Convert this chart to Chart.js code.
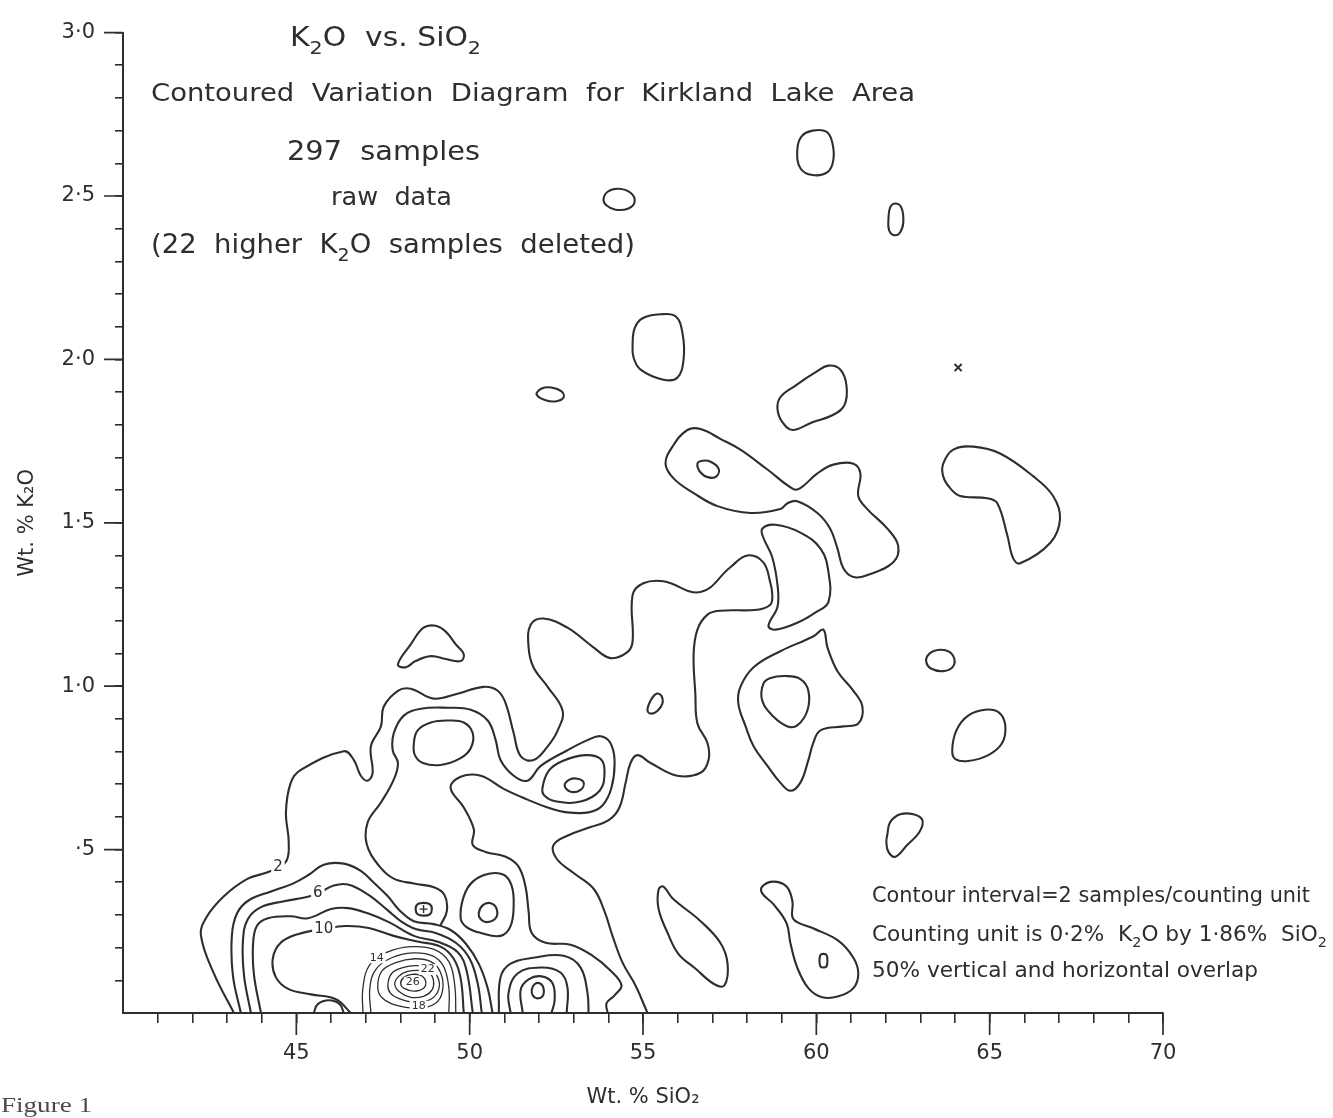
<!DOCTYPE html>
<html>
<head>
<meta charset="utf-8">
<title>K2O vs. SiO2 - Kirkland Lake Area</title>
<script src="https://cdn.jsdelivr.net/npm/chart.js@4.4.1/dist/chart.umd.min.js"></script>
<style>
  html, body { margin: 0; padding: 0; background: #fff; }
  canvas { display: block; }
</style>
</head>
<body>
<canvas id="chart" width="1333" height="1118"></canvas>
<script>
// Contoured variation diagram: every contour is a list of [SiO2 wt.%, K2O wt.%] points

// axis ticks
const xMajor = [45, 50, 55, 60, 65, 70];
const xMajorLabels = ['45', '50', '55', '60', '65', '70'];
const yMajor = [0.5, 1.0, 1.5, 2.0, 2.5, 3.0];
const yMajorLabels = ['·5', '1·0', '1·5', '2·0', '2·5', '3·0'];

// nested contours of the low-silica cluster (open, they run into the SiO2 axis)
const c2 = [[43.20,0],[42.62,0.121],[42.25,0.236],[42.39,0.290],[42.91,0.357],[43.60,0.411],[44.21,0.432],[44.70,0.463],[44.78,0.523],[44.70,0.614],[44.84,0.705],[45.13,0.744],[46.37,0.801],[46.66,0.774],[46.86,0.726],[47.06,0.711],[47.20,0.735],[47.15,0.816],[47.44,0.877],[47.52,0.937],[47.93,0.986],[48.30,0.992],[48.96,0.962],[49.65,0.977],[50.40,0.998],[50.81,0.986],[51.04,0.947],[51.27,0.856],[51.47,0.786],[51.84,0.774],[52.25,0.816],[52.54,0.865],[52.68,0.925],[52.25,0.998],[51.84,1.058],[51.70,1.119],[51.76,1.188],[52.13,1.207],[52.82,1.179],[53.57,1.119],[54.06,1.086],[54.55,1.104],[54.70,1.137],[54.70,1.279],[55.01,1.315],[55.59,1.321],[56.66,1.288],[57.52,1.364],[58.01,1.400],[58.47,1.379],[58.67,1.318],[58.73,1.279],[58.67,1.249],[58.30,1.234],[57.23,1.231],[56.86,1.219],[56.57,1.173],[56.46,1.098],[56.51,0.977],[56.57,0.886],[56.86,0.826],[56.89,0.774],[56.66,0.735],[55.99,0.726],[55.22,0.765],[54.84,0.789],[54.64,0.765],[54.50,0.705],[54.32,0.629],[54.01,0.590],[53.49,0.569],[52.85,0.544],[52.42,0.514],[52.51,0.472],[52.99,0.429],[53.57,0.381],[53.89,0.311],[54.12,0.236],[54.41,0.154],[54.78,0.085],[55.13,0]];
const c4 = [[49.16,0.269],[49.34,0.311],[49.28,0.360],[48.99,0.384],[48.39,0.396],[47.81,0.411],[47.38,0.451],[47.03,0.517],[47.06,0.584],[47.44,0.644],[47.81,0.714],[47.93,0.765],[47.78,0.804],[47.81,0.856],[48.10,0.910],[48.59,0.931],[49.37,0.934],[50.03,0.928],[50.52,0.895],[50.75,0.835],[50.89,0.774],[51.27,0.726],[51.67,0.711],[52.05,0.756],[52.82,0.804],[53.40,0.835],[53.78,0.847],[54.06,0.826],[54.18,0.771],[54.09,0.689],[53.83,0.635],[53.43,0.614],[52.82,0.614],[52.25,0.629],[51.67,0.653],[50.98,0.686],[50.32,0.726],[49.74,0.723],[49.45,0.689],[49.83,0.629],[50.12,0.562],[50.09,0.514],[50.46,0.493],[51.04,0.478],[51.41,0.448],[51.61,0.387],[51.70,0.311],[51.79,0.245],[52.19,0.215],[52.91,0.209],[53.55,0.175],[54.06,0.130],[54.38,0.085],[54.18,0.054],[53.95,0.030],[53.98,0]];
const c4Low = [[43.40,0],[43.17,0.115],[43.14,0.236],[43.29,0.305],[43.63,0.345],[44.27,0.372],[44.90,0.396],[45.36,0.423],[45.79,0.454],[46.37,0.457],[46.86,0.435],[47.23,0.399],[47.64,0.357],[47.98,0.314],[48.39,0.281],[48.96,0.272],[49.45,0.254],[49.89,0.212],[50.26,0.151],[50.52,0.076],[50.66,0]];
const c6 = [[43.69,0],[43.49,0.115],[43.46,0.221],[43.60,0.287],[43.98,0.324],[44.64,0.342],[45.27,0.354],[45.62,0.366],[46.08,0.390],[46.49,0.393],[47.06,0.363],[47.64,0.314],[48.01,0.281],[48.44,0.257],[49.02,0.245],[49.60,0.215],[50.00,0.166],[50.23,0.091],[50.35,0]];
const c8 = [[43.98,0],[43.78,0.115],[43.75,0.206],[43.86,0.266],[44.18,0.290],[44.84,0.296],[45.33,0.290],[46.00,0.318],[46.49,0.321],[47.06,0.305],[47.67,0.278],[48.39,0.236],[49.08,0.218],[49.65,0.187],[49.91,0.130],[50.09,0]];
const c10 = [[46.57,0],[46.14,0.042],[45.42,0.057],[44.78,0.073],[44.41,0.109],[44.32,0.166],[44.55,0.215],[45.07,0.242],[45.79,0.257],[46.43,0.266],[47.09,0.260],[47.81,0.236],[48.53,0.218],[49.16,0.203],[49.54,0.166],[49.74,0.106],[49.83,0]];
const hump46 = [[45.50,0],[45.62,0.027],[45.94,0.039],[46.25,0.027],[46.37,0]];

// the 26-sample peak near 48 % SiO2
const ring14 = [[46.92,0],[46.92,0.076],[47.12,0.148],[47.64,0.187],[48.33,0.203],[48.99,0.194],[49.40,0.157],[49.57,0.085],[49.60,0]];
const ring16 = [[47.15,0],[47.12,0.076],[47.29,0.133],[47.75,0.169],[48.36,0.184],[48.93,0.175],[49.25,0.142],[49.40,0.076],[49.40,0]];
const ring18 = [[47.35,0.076],[47.46,0.127],[47.87,0.154],[48.42,0.166],[48.88,0.157],[49.16,0.124],[49.22,0.070],[49.02,0.030],[48.47,0.015],[47.87,0.024],[47.49,0.045]];
const ring20 = [[47.64,0.085],[47.75,0.121],[48.07,0.139],[48.47,0.145],[48.85,0.136],[49.08,0.109],[49.11,0.073],[48.88,0.042],[48.42,0.033],[47.95,0.045],[47.72,0.060]];
const ring22 = [[47.84,0.088],[47.95,0.112],[48.21,0.127],[48.56,0.130],[48.85,0.121],[48.96,0.097],[48.91,0.070],[48.67,0.051],[48.30,0.048],[47.98,0.064]];
const ring24 = [[48.01,0.091],[48.10,0.109],[48.33,0.118],[48.59,0.115],[48.73,0.097],[48.67,0.076],[48.39,0.067],[48.10,0.076]];

// basin at 52 % SiO2 on the axis
const basinOuter = [[50.84,0],[50.89,0.109],[51.18,0.151],[51.84,0.169],[52.71,0.175],[53.20,0.139],[53.40,0.060],[53.43,0]];
const basinMid = [[51.18,0],[51.12,0.060],[51.38,0.121],[52.05,0.139],[52.62,0.124],[52.82,0.079],[52.80,0]];
const basinInner = [[51.53,0],[51.47,0.070],[51.70,0.103],[52.08,0.112],[52.39,0.091],[52.45,0.039],[52.36,0]];
const basinCore = [[51.79,0.070],[51.87,0.088],[52.02,0.091],[52.13,0.076],[52.10,0.051],[51.93,0.045],[51.82,0.054]];

// small closed contours inside the cluster
const crossCore = [[48.44,0.318],[48.50,0.333],[48.67,0.337],[48.85,0.333],[48.91,0.318],[48.85,0.302],[48.67,0.298],[48.50,0.302]];
const crossMark = [[48.67,0.318]];
const loop50 = [[49.74,0.290],[49.83,0.357],[50.09,0.402],[50.55,0.426],[50.98,0.423],[51.21,0.390],[51.27,0.333],[51.18,0.266],[50.89,0.236],[50.32,0.245],[49.91,0.263]];
const loop50Core = [[50.26,0.305],[50.38,0.330],[50.61,0.336],[50.78,0.318],[50.75,0.290],[50.49,0.278],[50.32,0.287]];
const oval49 = [[48.39,0.826],[48.50,0.865],[48.88,0.889],[49.37,0.895],[49.83,0.889],[50.09,0.856],[50.03,0.810],[49.74,0.780],[49.16,0.759],[48.65,0.765],[48.42,0.789]];
const nest53 = [[52.10,0.689],[52.28,0.741],[52.68,0.771],[53.34,0.789],[53.78,0.777],[53.89,0.735],[53.75,0.680],[53.20,0.647],[52.51,0.647],[52.16,0.665]];
const nest53Core = [[52.74,0.696],[52.88,0.714],[53.11,0.717],[53.29,0.705],[53.20,0.683],[52.91,0.677]];
const triangle49 = [[47.93,1.067],[48.30,1.128],[48.67,1.179],[49.02,1.185],[49.31,1.167],[49.60,1.128],[49.83,1.098],[49.74,1.077],[49.31,1.083],[48.88,1.092],[48.44,1.077],[48.16,1.058]];
const oval55 = [[55.13,0.925],[55.22,0.956],[55.39,0.977],[55.53,0.971],[55.56,0.947],[55.42,0.925],[55.25,0.916]];

// higher-silica contours
const kite56 = [[55.45,0.378],[55.59,0.387],[55.85,0.351],[56.66,0.281],[57.23,0.215],[57.44,0.151],[57.35,0.085],[57.06,0.088],[56.51,0.136],[56.02,0.181],[55.71,0.245],[55.45,0.318]];
const hook60 = [[58.44,0.387],[58.76,0.402],[59.14,0.387],[59.31,0.342],[59.34,0.287],[59.89,0.260],[60.64,0.221],[61.07,0.169],[61.21,0.121],[61.07,0.076],[60.64,0.051],[60.17,0.048],[59.77,0.076],[59.45,0.139],[59.25,0.215],[59.14,0.275],[58.76,0.333],[58.44,0.366]];
const hook60Core = [[60.09,0.160],[60.12,0.178],[60.20,0.181],[60.29,0.178],[60.32,0.160],[60.29,0.142],[60.20,0.139],[60.12,0.142]];
const drop62 = [[62.05,0.547],[62.13,0.584],[62.42,0.608],[62.80,0.608],[63.06,0.590],[62.97,0.553],[62.62,0.514],[62.28,0.478],[62.08,0.493],[62.02,0.523]];
const oval65 = [[63.92,0.804],[64.04,0.865],[64.38,0.910],[64.87,0.928],[65.27,0.919],[65.45,0.880],[65.36,0.826],[64.96,0.789],[64.38,0.771],[64.01,0.777]];
const oval63 = [[63.20,1.092],[63.37,1.107],[63.72,1.110],[63.95,1.092],[63.95,1.061],[63.66,1.046],[63.29,1.055],[63.17,1.074]];
const star60 = [[60.20,1.173],[60.32,1.119],[60.61,1.046],[61.07,0.986],[61.33,0.937],[61.21,0.886],[60.78,0.877],[60.12,0.865],[59.91,0.826],[59.77,0.774],[59.54,0.705],[59.25,0.680],[58.96,0.705],[58.59,0.756],[58.19,0.816],[57.96,0.877],[57.75,0.947],[57.81,0.998],[58.19,1.058],[58.96,1.107],[59.91,1.152]];
const star60Core = [[58.47,1.007],[58.68,1.025],[59.11,1.031],[59.54,1.022],[59.77,0.986],[59.74,0.925],[59.45,0.880],[59.17,0.877],[58.76,0.907],[58.44,0.956]];
const crescent59 = [[58.44,1.482],[58.82,1.494],[59.54,1.470],[60.12,1.421],[60.35,1.349],[60.35,1.258],[59.97,1.225],[59.45,1.194],[58.82,1.173],[58.62,1.185],[58.88,1.243],[58.88,1.309],[58.73,1.394],[58.47,1.455]];
const band58 = [[55.65,1.681],[55.85,1.733],[56.28,1.784],[56.66,1.787],[57.23,1.757],[57.81,1.724],[58.59,1.663],[59.34,1.603],[59.54,1.606],[60.03,1.651],[60.49,1.678],[61.07,1.681],[61.27,1.651],[61.21,1.582],[61.47,1.542],[62.05,1.482],[62.36,1.430],[62.22,1.379],[61.47,1.340],[61.07,1.334],[60.78,1.361],[60.61,1.421],[60.40,1.482],[60.03,1.530],[59.45,1.566],[59.17,1.560],[58.96,1.542],[58.10,1.530],[57.15,1.551],[56.46,1.591],[55.88,1.636]];
const band58Core = [[56.57,1.681],[56.72,1.690],[56.95,1.687],[57.18,1.666],[57.12,1.642],[56.89,1.639],[56.66,1.654]];
const crescent66 = [[63.66,1.642],[63.66,1.681],[63.95,1.724],[64.53,1.733],[65.30,1.712],[66.26,1.642],[66.83,1.582],[67.03,1.512],[66.75,1.439],[65.88,1.376],[65.68,1.391],[65.51,1.461],[65.22,1.560],[64.93,1.575],[64.15,1.582],[63.86,1.606]];
const loop55 = [[54.70,2.044],[54.76,2.096],[54.99,2.126],[55.50,2.138],[55.94,2.132],[56.14,2.080],[56.17,1.999],[55.99,1.944],[55.59,1.938],[54.93,1.969],[54.73,2.005]];
const loop60 = [[58.88,1.848],[58.96,1.884],[59.40,1.920],[59.97,1.960],[60.35,1.981],[60.69,1.969],[60.87,1.920],[60.81,1.860],[60.46,1.829],[59.89,1.808],[59.31,1.784],[59.02,1.808]];
const oval52 = [[51.93,1.893],[52.08,1.911],[52.36,1.914],[52.65,1.902],[52.71,1.884],[52.51,1.872],[52.19,1.875]];
const oval54 = [[53.86,2.489],[53.98,2.513],[54.29,2.522],[54.64,2.510],[54.76,2.483],[54.58,2.462],[54.21,2.458],[53.95,2.471]];
const loop60Top = [[59.45,2.640],[59.57,2.682],[59.89,2.700],[60.29,2.697],[60.46,2.664],[60.49,2.610],[60.32,2.573],[59.89,2.564],[59.54,2.585]];
const oval62 = [[62.08,2.428],[62.13,2.465],[62.28,2.477],[62.45,2.465],[62.51,2.422],[62.42,2.389],[62.25,2.380],[62.10,2.395]];
const outlier = [[64.09,1.975]];

// contour value labels: text, SiO2, K2O
const lineLabels = [['2', 44.47, 0.445], ['6', 45.62, 0.366], ['10', 45.79, 0.257]];
const peakLabels = [['14', 47.32, 0.169], ['22', 48.79, 0.133], ['26', 48.36, 0.094], ['18', 48.53, 0.021]];

const INK = '#2e2e2e';
const FONT = "'DejaVu Sans', 'Liberation Sans', sans-serif";
const SERIF = "'Liberation Serif', serif";

function toXY(pts) { return pts.map(([x, y]) => ({ x, y })); }

function openLine(pts, width) {
  return {
    data: toXY(pts), showLine: true, tension: 0.4,
    borderColor: INK, borderWidth: width, pointRadius: 0,
    borderCapStyle: 'round', borderJoinStyle: 'round', fill: false
  };
}

// closed loop: pad with neighbours so the spline is smooth at the seam,
// then hide the two padding segments
function closedLine(pts, width) {
  const loop = [pts[pts.length - 1], ...pts, pts[0], pts[1]];
  const n = loop.length;
  const ds = openLine(loop, width);
  ds.segment = {
    borderColor: c => (c.p0DataIndex === 0 || c.p1DataIndex === n - 1) ? 'rgba(0,0,0,0)' : undefined
  };
  return ds;
}

const openMain = [c2, c4, c4Low, c6, c8, c10, hump46, basinOuter, basinMid, basinInner];
const openRings = [ring14, ring16];
const closedMain = [crossCore, loop50, loop50Core, oval49, nest53, nest53Core, triangle49, oval55,
  kite56, hook60, hook60Core, drop62, oval65, oval63, star60, star60Core, crescent59, band58, band58Core,
  crescent66, loop55, loop60, oval52, oval54, loop60Top, oval62, basinCore];
const closedRings = [ring18, ring20, ring22, ring24];

const datasets = [
  ...openMain.map(p => openLine(p, 2.1)),
  ...closedMain.map(p => closedLine(p, 2.1)),
  ...openRings.map(p => openLine(p, 1.3)),
  ...closedRings.map(p => closedLine(p, 1.3)),
  { data: toXY(outlier), pointStyle: 'crossRot', pointRadius: 5, borderWidth: 2, borderColor: INK, showLine: false },
  { data: toXY(crossMark), pointStyle: 'cross', pointRadius: 4, borderWidth: 1.4, borderColor: INK, showLine: false }
];

// text with "_" parts as subscripts, stretched to span x0..x1
function drawRich(ctx, parts, x0, x1, base, size, family) {
  const fam = family || FONT;
  const main = `${size}px ${fam}`;
  const sub = `${Math.round(size * 0.68)}px ${fam}`;
  let w = 0;
  parts.forEach(p => {
    const s = p.startsWith('_');
    ctx.font = s ? sub : main;
    w += ctx.measureText(s ? p.slice(1) : p).width;
  });
  ctx.save();
  ctx.translate(x0, base);
  ctx.scale((x1 - x0) / w, 1);
  ctx.textBaseline = 'alphabetic';
  ctx.textAlign = 'left';
  let x = 0;
  parts.forEach(p => {
    const s = p.startsWith('_');
    const t = s ? p.slice(1) : p;
    ctx.font = s ? sub : main;
    ctx.fillText(t, x, s ? size * 0.3 : 0);
    x += ctx.measureText(t).width;
  });
  ctx.restore();
}

const notes = [
  { parts: ['K', '_2', 'O  vs. SiO', '_2'], x0: 290, x1: 481, base: 46, size: 26 },
  { parts: ['Contoured  Variation  Diagram  for  Kirkland  Lake  Area'], x0: 151, x1: 915, base: 101, size: 25 },
  { parts: ['297  samples'], x0: 287, x1: 480, base: 160, size: 27 },
  { parts: ['raw  data'], x0: 331, x1: 452, base: 205, size: 25 },
  { parts: ['(22  higher  K', '_2', 'O  samples  deleted)'], x0: 151, x1: 635, base: 253, size: 26 },
  { parts: ['Contour interval=2 samples/counting unit'], x0: 872, x1: 1310, base: 902, size: 21 },
  { parts: ['Counting unit is 0·2%  K', '_2', 'O by 1·86%  SiO', '_2'], x0: 872, x1: 1327, base: 941, size: 21 },
  { parts: ['50% vertical and horizontal overlap'], x0: 872, x1: 1258, base: 977, size: 21 }
];

const majorTicks = {
  id: 'majorTicks',
  afterDraw(chart) {
    const { ctx, chartArea, scales: { x, y } } = chart;
    ctx.save();
    ctx.strokeStyle = INK;
    ctx.lineWidth = 1.7;
    ctx.beginPath();
    xMajor.forEach(v => {
      const px = x.getPixelForValue(v);
      ctx.moveTo(px, chartArea.bottom);
      ctx.lineTo(px, chartArea.bottom + 22);
    });
    yMajor.forEach(v => {
      const py = y.getPixelForValue(v);
      ctx.moveTo(chartArea.left, py);
      ctx.lineTo(chartArea.left - 19, py);
    });
    ctx.stroke();
    ctx.restore();
  }
};

const annotations = {
  id: 'annotations',
  afterDatasetsDraw(chart) {
    const { ctx, scales: { x, y } } = chart;
    ctx.save();
    const put = (list, size) => {
      ctx.font = `${size}px ${FONT}`;
      ctx.textAlign = 'center';
      ctx.textBaseline = 'middle';
      list.forEach(([t, sx, ky]) => {
        const px = x.getPixelForValue(sx);
        const py = y.getPixelForValue(ky);
        const w = ctx.measureText(t).width;
        ctx.fillStyle = '#fff';
        ctx.fillRect(px - w / 2 - 2, py - size / 2, w + 4, size);
        ctx.fillStyle = INK;
        ctx.fillText(t, px, py);
      });
    };
    put(lineLabels, 15);
    put(peakLabels, 11);
    ctx.restore();
  },
  afterDraw(chart) {
    const { ctx } = chart;
    ctx.save();
    ctx.fillStyle = INK;
    notes.forEach(n => drawRich(ctx, n.parts, n.x0, n.x1, n.base, n.size));
    ctx.fillStyle = '#4a4a4a';
    drawRich(ctx, ['Figure 1'], 1, 92, 1112, 21, SERIF);
    ctx.restore();
  }
};

Chart.defaults.font.family = FONT;
Chart.defaults.color = INK;

new Chart(document.getElementById('chart'), {
  type: 'scatter',
  data: { datasets },
  options: {
    responsive: false,
    animation: false,
    events: [],
    layout: { padding: { top: 21, right: 170, bottom: 0, left: 0 } },
    plugins: { legend: { display: false }, tooltip: { enabled: false } },
    scales: {
      x: {
        type: 'linear', min: 40, max: 70,
        afterFit: s => { s.height = 105; },
        border: { display: true, color: INK, width: 2 },
        grid: {
          drawOnChartArea: false, drawTicks: true, tickLength: 10, lineWidth: 1.6,
          color: c => (c.tick && c.tick.value === 40) ? 'rgba(0,0,0,0)' : INK
        },
        ticks: {
          stepSize: 1, autoSkip: false, maxRotation: 0, padding: 18,
          font: { size: 21 }, color: INK,
          callback: v => {
            const i = xMajor.findIndex(m => Math.abs(m - v) < 1e-6);
            return i >= 0 ? xMajorLabels[i] : '';
          }
        },
        title: { display: true, text: 'Wt. % SiO₂', color: INK, font: { size: 21 }, padding: { top: 0, bottom: 8 } }
      },
      y: {
        type: 'linear', min: 0, max: 3,
        afterFit: s => { s.width = 123; },
        border: { display: true, color: INK, width: 2 },
        grid: {
          drawOnChartArea: false, drawTicks: true, tickLength: 8, lineWidth: 1.6,
          color: c => (c.tick && Math.abs(c.tick.value) < 1e-6) ? 'rgba(0,0,0,0)' : INK
        },
        ticks: {
          stepSize: 0.1, autoSkip: false, padding: 20,
          font: { size: 21 }, color: INK,
          callback: v => {
            const i = yMajor.findIndex(m => Math.abs(m - v) < 1e-6);
            return i >= 0 ? yMajorLabels[i] : '';
          }
        },
        title: { display: true, text: 'Wt. % K₂O', color: INK, font: { size: 21 }, padding: { top: 15, bottom: 0 } }
      }
    }
  },
  plugins: [majorTicks, annotations]
});
</script>
</body>
</html>
